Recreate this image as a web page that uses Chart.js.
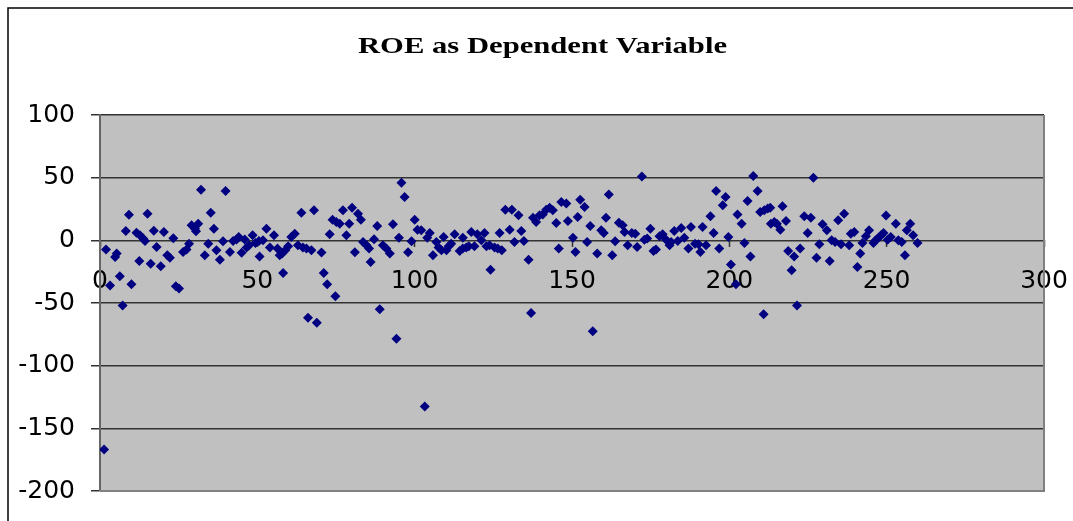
<!DOCTYPE html>
<html>
<head>
<meta charset="utf-8">
<script src="https://cdn.jsdelivr.net/npm/chart.js@4"></script>
<style>
html,body{margin:0;padding:0;background:#fff;}
#wrap{width:1073px;height:521px;position:relative;}
</style>
</head>
<body>
<div id="wrap"><canvas id="c"></canvas></div>
<script>
const chartTitle = "ROE as Dependent Variable";
const xTicks = [0, 50, 100, 150, 200, 250, 300];
const yTicks = [-200, -150, -100, -50, 0, 50, 100];

const obsX = [
1.3,1.9,3.2,4.8,5.3,6.3,7.2,8.2,9.2,10,11.6,12.5,12.7,13.7,14.3,15.1,16.1,17.1,18,19.3,
20.3,21.4,22.2,23.3,24.1,25.1,26.4,27.5,28.3,29.1,30.2,30.5,31.2,32.1,33.3,34.4,35.2,36.2,37,38.1,
39.1,39.9,41.3,42.3,43.4,44.1,45,46,46.6,47.4,48.5,49.4,50.7,50.5,51.8,52.9,54,55.3,56.4,57.1,
57.9,58.2,58.9,59.8,60.8,61.9,62.9,64,64.5,65.6,66.1,67.2,68,68.9,70.4,71.1,72.2,73,73.9,74.8,
75.1,76.2,77.2,78.3,79.2,80.1,81,82,82.9,83.6,84.7,85.5,86,87.1,88.1,88.9,89.9,91,92.1,93.1,
94.2,95,95.8,96.8,97.9,99,100,100.9,102.1,103.2,104,104.8,105.8,106.9,107.6,108.5,109.2,110.1,110.8,111.6,
112.7,114.3,115.3,115.3,116.4,117.2,118,119,119.9,121.2,122.2,122.8,123.8,124.1,125.4,126.4,127,127.7,128.8,130.2,
130.9,131.7,133,133.9,134.7,136.2,137,137.6,138.6,139.7,140.7,141.8,142.9,143.9,145,145.8,146.6,148.2,148.7,150.3,
151.1,151.8,152.6,154,154.8,155.8,156.6,158,159.3,160.1,160.8,161.7,162.8,163.7,164.9,166.1,166.7,167.7,169,170.1,
170.7,172.2,173,173.9,174.9,175.9,176.7,177.8,178.8,179.9,181,181.5,182.5,183.6,184.7,185.7,187,187.8,189.1,190.2,
190.8,191.5,192.6,194,195,195.8,196.8,197.9,198.8,199.7,200.5,202.1,202.6,203.9,204.8,205.8,206.7,207.6,209,209.8,
210.9,211.1,212.2,213,213.2,214.3,215.1,216.2,216.9,218,218.7,219.8,220.6,221.5,222.5,223.8,224.9,225.9,226.7,227.7,
228.6,229.6,231,231.9,232.5,233.6,234.6,235.5,236.5,238.1,238.6,239.7,240.7,241.6,242.3,243.4,244.4,245.8,246.5,247.4,
248.2,249,249.8,250.3,251.3,252.9,253.7,254.8,255.8,256.4,257.5,258.4,259.8
];
const roeY = [
-166.8,-7.4,-36,-13.3,-10.6,-28.7,-52,7.4,20.5,-35,6,-16.5,4,1.4,-0.5,21.3,-18.6,7.7,-5.3,-20.7,
6.6,-12,-13.8,1.6,-36.7,-38.5,-9.3,-7.4,-2.7,12,9.3,7.2,13.3,40.4,-12,-2.7,22.1,9.3,-8,-15.4,
-0.8,39.3,-9.3,-0.5,0.6,2.6,-10,0.6,-5.8,-4,4,-2.1,-12.8,-0.5,0,9.3,-5.8,4,-6.6,-12,
-10.6,-26,-8,-4.8,2.6,5.3,-4,22.1,-5.8,-6.6,-61.7,-8,24,-65.7,-9.8,-26,-35,4.8,16.5,-44.7,
14.6,13.3,24,4,13.3,26,-9.6,21.3,16.5,-1.3,-4,-6.6,-17.3,0.8,11.4,-55,-4,-6.6,-10.6,12.8,
-78.5,2.1,46,34.6,-9.6,-0.8,16.5,8.5,8,-132.5,2.1,5.8,-12,-1.3,-5.8,-8,2.6,-8,-4.8,-2.7,
4.8,-8.5,2.1,-6.6,-5.8,-4.8,6.6,-4.8,4.8,0,5.8,-4.8,-4,-23.4,-5.8,-6.6,5.8,-8,24.5,8.5,
24.5,-1.3,20,7.4,-0.5,-15.4,-58,18.1,14.6,20,20.7,24.5,26,24,13.8,-6.6,30.6,29.3,15.4,2.1,
-9.3,18.6,32.4,26.6,-1.3,11.4,-72.6,-10.6,8,5.8,18.1,36.5,-12,-0.8,14.1,12,6.6,-4,5.8,5.3,
-5.3,51,0.5,1.4,9.3,-8.5,-7.4,3.2,4.8,0.5,-4,-1.3,7.4,-0.5,9.8,2.1,-6.6,10.6,-2.7,-3.2,
-9.3,10.6,-4,19.2,5.8,39.3,-6.6,27.9,34.6,2.6,-19.2,-35.1,20.7,13.3,-2.1,31.4,-12.8,51.3,39.3,22.6,
-59,24,25.3,26,13.3,14.6,13.3,8.5,27.1,15.4,-8.5,-23.9,-12.8,-51.9,-6.6,19.2,5.8,18.1,50,-13.8,
-3.2,12.8,8,-16.5,0,-1.3,16,-3.2,21.3,-4,5.3,6.6,-21.3,-10.6,-2.1,3.2,8,-2.1,0,2.1,
4,5.8,19.9,0.5,2.6,13.3,0,-1.3,-12,8,13.3,4,-2.1
];

const points = obsX.map((x, i) => ({ x: x, y: roeY[i] }));

const PLOT = { left: 100, top: 115, right: 1044, bottom: 491 };

const framePlugin = {
  id: 'frame',
  afterLayout(chart) {
    const a = chart.chartArea;
    a.left = PLOT.left; a.top = PLOT.top; a.right = PLOT.right; a.bottom = PLOT.bottom;
    a.width = a.right - a.left; a.height = a.bottom - a.top;
    const xs = chart.scales.x, ys = chart.scales.y;
    xs.left = a.left; xs.right = a.right; xs.width = a.width;
    xs.configure();
    ys.top = a.top; ys.bottom = a.bottom; ys.height = a.height;
    ys.configure();
  },
  beforeDraw(chart) {
    const ctx = chart.ctx, a = chart.chartArea;
    ctx.save();
    ctx.fillStyle = '#ffffff';
    ctx.fillRect(0, 0, chart.width, chart.height);
    ctx.fillStyle = '#c0c0c0';
    ctx.fillRect(a.left, a.top, a.right - a.left, a.bottom - a.top);
    ctx.strokeStyle = '#000';
    ctx.lineWidth = 1.5;
    ctx.strokeRect(8, 8, chart.width + 50, chart.height + 50);
    ctx.restore();
  },
  afterDraw(chart) {
    const ctx = chart.ctx, a = chart.chartArea;
    ctx.save();
    ctx.strokeStyle = '#808080';
    ctx.lineWidth = 2;
    ctx.beginPath();
    ctx.moveTo(a.right, a.top);
    ctx.lineTo(a.right, a.bottom);
    ctx.lineTo(a.left, a.bottom);
    ctx.stroke();
    // title
    ctx.font = 'bold 23px "Liberation Serif", "Times New Roman", serif';
    ctx.fillStyle = '#000';
    ctx.textBaseline = 'alphabetic';
    ctx.textAlign = 'center';
    const w = ctx.measureText(chartTitle).width;
    const sx = 369 / w;
    ctx.translate(542.5, 53);
    ctx.scale(sx, 1);
    ctx.fillText(chartTitle, 0, 0);
    ctx.restore();
  }
};

new Chart(document.getElementById('c'), {
  type: 'scatter',
  data: {
    datasets: [{
      label: 'ROE',
      data: points,
      backgroundColor: '#000080',
      borderColor: '#000080',
      borderWidth: 0,
      pointStyle: 'rectRot',
      pointRadius: 5,
      pointHoverRadius: 5
    }]
  },
  options: {
    responsive: true,
    maintainAspectRatio: false,
    animation: false,
    events: [],
    layout: { padding: { left: 0, top: 115, right: 15, bottom: 29 } },
    plugins: { legend: { display: false }, title: { display: false }, tooltip: { enabled: false } },
    scales: {
      x: {
        type: 'linear',
        position: { y: 0 },
        min: 0, max: 300,
        afterBuildTicks(scale) { scale.ticks = xTicks.map(v => ({ value: v })); },
        grid: { drawOnChartArea: false, drawTicks: true, tickLength: 7, tickColor: '#333', tickWidth: 1.5 },
        border: { display: false },
        ticks: { color: '#000', padding: 19, maxRotation: 0, autoSkip: false,
                 font: { family: '"DejaVu Sans", Arial, sans-serif', size: 25 } }
      },
      y: {
        type: 'linear',
        min: -200, max: 100,
        afterBuildTicks(scale) { scale.ticks = yTicks.map(v => ({ value: v })); },
        afterFit(scale) { scale.width = 100; },
        grid: {
          color: (c) => (c.tick && c.tick.value === -200) ? '#808080' : '#333',
          lineWidth: 1.5,
          tickLength: 9,
          tickColor: '#333',
          tickWidth: 1.5
        },
        border: { display: true, color: '#666', width: 2 },
        ticks: { color: '#000', padding: 16,
                 font: { family: '"DejaVu Sans", Arial, sans-serif', size: 25 } }
      }
    }
  },
  plugins: [framePlugin]
});
</script>
</body>
</html>
